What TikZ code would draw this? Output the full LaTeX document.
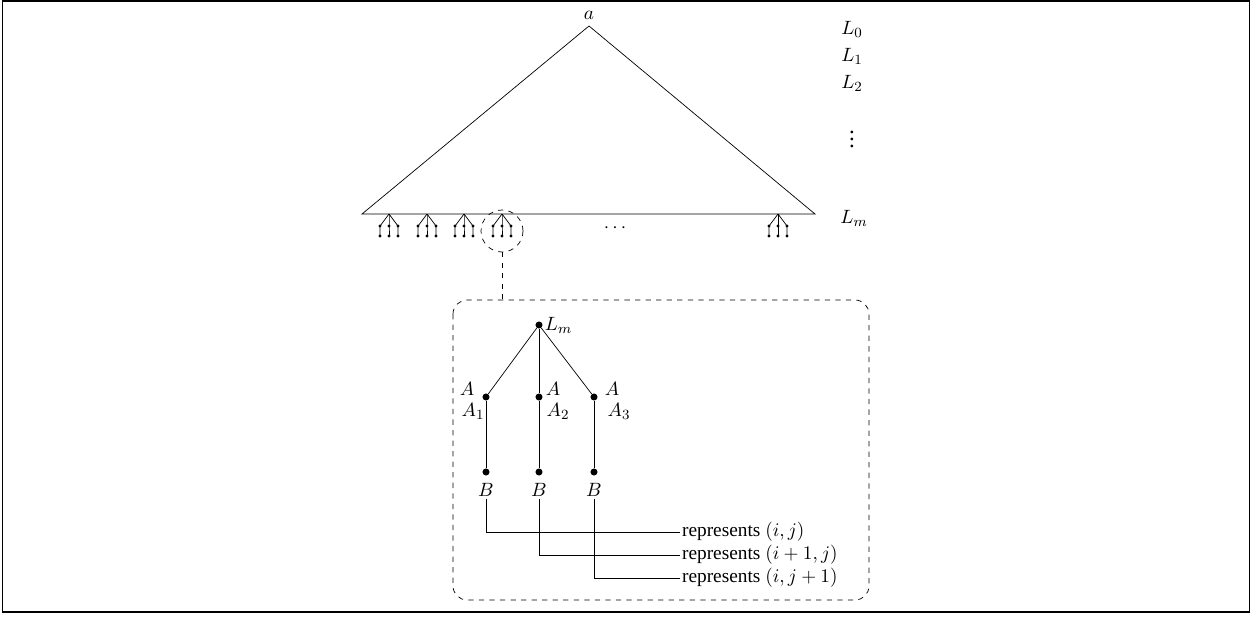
\documentclass[tikz,border=0pt]{standalone}
\usepackage{fontspec}
\setmainfont{Liberation Serif}
\tikzset{
  every node/.style={font=\fontsize{11}{13}\selectfont},
  dot/.style={circle, fill=black, inner sep=0pt, minimum size=4pt},
  lbl/.style={inner sep=1pt}
}
\begin{document}
\begin{tikzpicture}[x=0.02cm, y=-0.02cm]
  \useasboundingbox (0,0) rectangle (1254,619);
  \draw[line width=1.1pt] (2.5,1) rectangle (1249.5,612);

  % the tree of levels
  \coordinate (apex) at (589,26);
  \coordinate (left) at (362,214);
  \coordinate (right) at (815,214);
  \draw (left) -- (apex) -- (right) -- cycle;
  \node[lbl] (atop) at (589,15) {$a$};

  \node (L0) at (852,29) {$L_0$};
  \node (L1) at (852,56) {$L_1$};
  \node (L2) at (852,83) {$L_2$};
  \node[font=\fontsize{13}{15}\selectfont] (Ldots) at (852,134) {$\vdots$};
  \node (Lm) at (854,218) {$L_m$};

  % small trees below the last level
  \foreach \x in {389,427,464,502,778} {
    \foreach \d in {-9,0,9} {
      \draw (\x,214) -- (\x+\d,226) -- (\x+\d,236);
      \fill (\x+\d,226) circle (0.9pt);
      \fill (\x+\d,236) circle (0.9pt);
    }
  }
  \node (hdots) at (615,228) {$\cdots$};

  \draw[dashed] (502,231) circle (0.42cm);
  \coordinate (zoomtop) at (502,252);
  \coordinate (boxtop) at (502,300);
  \draw[dashed] (zoomtop) -- (boxtop);
  \draw[dashed, rounded corners=8pt] (453,300) rectangle (869,600);

  % the enlarged tree
  \node[dot] (root) at (539,325) {};
  \node[lbl, anchor=west] (rootlab) at (root.east) {$L_m$};
  \node[dot] (a1) at (486,397) {};
  \node[dot] (a2) at (539,397) {};
  \node[dot] (a3) at (594,397) {};
  \node[dot] (b1) at (486,472) {};
  \node[dot] (b2) at (539,472) {};
  \node[dot] (b3) at (594,472) {};
  \draw (root) -- (a1);
  \draw (root) -- (a2);
  \draw (root) -- (a3);
  \draw (a1) -- (b1);
  \draw (a2) -- (b2);
  \draw (a3) -- (b3);

  \node[lbl] (A1top) at (467,389) {$A$};
  \node[lbl] (A1) at (473,411) {$A_1$};
  \node[lbl] (A2top) at (553,389) {$A$};
  \node[lbl] (A2) at (558,411) {$A_2$};
  \node[lbl] (A3top) at (612,389) {$A$};
  \node[lbl] (A3) at (619,411) {$A_3$};

  \node[lbl] (B1) at (486,490) {$B$};
  \node[lbl] (B2) at (539,490) {$B$};
  \node[lbl] (B3) at (594,490) {$B$};

  \node[lbl, anchor=west] (r1) at (680,532) {represents $(i,j)$};
  \node[lbl, anchor=west] (r2) at (680,555) {represents $(i+1,j)$};
  \node[lbl, anchor=west] (r3) at (680,578) {represents $(i,j+1)$};
  \draw (B1.south) |- (r1.west);
  \draw (B2.south) |- (r2.west);
  \draw (B3.south) |- (r3.west);
\end{tikzpicture}
\end{document}
